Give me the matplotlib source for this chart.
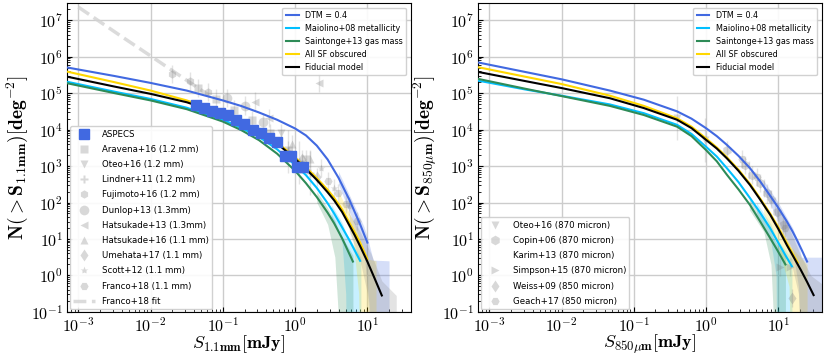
import matplotlib
matplotlib.use('Agg')
import matplotlib.pyplot as plt
from matplotlib.ticker import FuncFormatter, LogLocator, NullFormatter
import numpy as np

plt.rcParams['mathtext.fontset'] = 'cm'
plt.rcParams['font.family'] = 'DejaVu Sans'

# ---- model curves: log10(S [mJy]) and log10(N [deg^-2]) ----
# left panel (1.1 mm)
l_dtm_x = [-3.2, -2.5, -2.0, -1.5, -1.0, -0.75, -0.5, -0.25, 0.0, 0.15, 0.3, 0.45, 0.6, 0.75, 0.9, 1.0]
l_dtm_y = [5.72, 5.47, 5.28, 5.07, 4.80, 4.65, 4.47, 4.27, 4.03, 3.84, 3.56, 3.18, 2.68, 2.08, 1.40, 0.90]
l_mai_x = [-3.2, -2.5, -2.0, -1.5, -1.0, -0.75, -0.5, -0.25, 0.0, 0.15, 0.3, 0.45, 0.54, 0.65, 0.75, 0.9]
l_mai_y = [5.33, 5.04, 4.84, 4.60, 4.27, 4.05, 3.80, 3.46, 3.03, 2.75, 2.40, 1.98, 1.70, 1.32, 0.97, 0.40]
l_sai_x = [-3.2, -2.5, -2.0, -1.5, -1.0, -0.75, -0.5, -0.25, 0.0, 0.15, 0.3, 0.45, 0.54, 0.65, 0.8]
l_sai_y = [5.29, 5.00, 4.80, 4.56, 4.22, 3.99, 3.71, 3.34, 2.87, 2.53, 2.15, 1.72, 1.43, 1.02, 0.38]
l_all_x = [-3.2, -2.5, -2.0, -1.5, -1.0, -0.75, -0.5, -0.25, 0.0, 0.15, 0.3, 0.45, 0.54, 0.65, 0.82, 0.9, 1.0]
l_all_y = [5.61, 5.30, 5.07, 4.80, 4.45, 4.23, 3.97, 3.65, 3.24, 2.96, 2.67, 2.35, 2.13, 1.81, 1.20, 0.90, 0.45]
l_fid_x = [-3.2, -2.5, -2.0, -1.5, -1.0, -0.75, -0.5, -0.25, 0.0, 0.15, 0.3, 0.45, 0.54, 0.65, 0.82, 0.9, 1.0, 1.1, 1.2]
l_fid_y = [5.47, 5.18, 4.98, 4.75, 4.42, 4.20, 3.94, 3.62, 3.20, 2.92, 2.62, 2.28, 2.06, 1.74, 1.12, 0.80, 0.38, -0.08, -0.55]

# right panel (850 micron)
r_dtm_x = [-3.2, -2.5, -2.0, -1.33, -0.86, -0.4, -0.2, 0.0, 0.15, 0.29, 0.45, 0.61, 0.75, 0.89, 1.0, 1.12, 1.2, 1.26, 1.33, 1.40]
r_dtm_y = [5.86, 5.58, 5.38, 5.07, 4.82, 4.50, 4.30, 4.04, 3.82, 3.58, 3.28, 2.94, 2.58, 2.18, 1.86, 1.48, 1.20, 0.97, 0.68, 0.38]
r_mai_x = [-3.2, -2.5, -2.0, -1.33, -0.86, -0.4, -0.2, 0.0, 0.15, 0.29, 0.45, 0.61, 0.75, 0.89, 1.0, 1.1, 1.19]
r_mai_y = [5.36, 5.10, 4.93, 4.69, 4.45, 4.13, 3.88, 3.53, 3.26, 2.94, 2.56, 2.12, 1.72, 1.29, 0.90, 0.55, 0.25]
r_sai_x = [-3.2, -2.5, -2.0, -1.33, -0.86, -0.4, -0.2, 0.0, 0.15, 0.29, 0.45, 0.61, 0.75, 0.89, 1.0, 1.10]
r_sai_y = [5.41, 5.12, 4.92, 4.65, 4.40, 4.08, 3.82, 3.44, 3.13, 2.76, 2.36, 1.93, 1.48, 1.02, 0.65, 0.30]
r_all_x = [-3.2, -2.5, -2.0, -1.33, -0.86, -0.4, -0.2, 0.0, 0.15, 0.29, 0.45, 0.61, 0.75, 0.89, 1.0, 1.12, 1.2, 1.27]
r_all_y = [5.73, 5.45, 5.25, 4.93, 4.65, 4.31, 4.08, 3.76, 3.51, 3.24, 2.90, 2.51, 2.11, 1.69, 1.32, 0.88, 0.60, 0.35]
r_fid_x = [-3.2, -2.5, -2.0, -1.33, -0.86, -0.4, -0.2, 0.0, 0.15, 0.29, 0.45, 0.61, 0.75, 0.89, 1.0, 1.12, 1.2, 1.31, 1.4, 1.49]
r_fid_y = [5.60, 5.33, 5.14, 4.86, 4.59, 4.27, 4.04, 3.72, 3.48, 3.21, 2.87, 2.48, 2.08, 1.66, 1.28, 0.83, 0.55, 0.16, -0.18, -0.54]

# ---- model uncertainty bands: (log S, log N upper, log N lower) ----
lb_sai = ([0.30, 0.45, 0.55, 0.61, 0.62, 0.80], [2.3, 1.85, 1.5, 1.2, 1.15, 0.55], [2.0, 1.4, 0.5, -1.5, -2, -2])
lb_mai = ([0.50, 0.65, 0.70, 0.71, 0.91], [1.95, 1.45, 1.2, 1.15, 0.5], [1.6, 0.9, -0.5, -2, -2])
lb_all = ([0.60, 0.80, 0.88, 0.89, 1.0, 1.12], [2.3, 1.5, 1.1, 1.0, 0.45, 0.40], [2.0, 1.0, -0.5, -2, -2, -2])
lb_dtm = ([0.60, 0.80, 0.95, 1.0, 1.08, 1.30], [2.85, 2.0, 1.35, 1.05, 0.42, 0.40], [2.5, 1.5, 0.7, -0.3, -2, -2])
lb_fid = ([0.75, 0.90, 1.0, 1.05, 1.2, 1.40], [1.7, 1.2, 0.8, 0.6, -0.15, -0.55], [1.2, 0.4, -0.5, -2, -2, -2])

rb_sai = ([0.60, 0.80, 0.90, 0.93, 0.94, 1.10], [2.1, 1.6, 1.2, 1.05, 1.0, 0.5], [1.8, 1.2, 0.3, -1.0, -2, -2])
rb_mai = ([0.70, 0.90, 0.97, 0.98, 1.19], [2.0, 1.4, 1.05, 1.0, 0.45], [1.7, 0.9, 0.0, -2, -2])
rb_all = ([0.80, 1.00, 1.15, 1.17, 1.40], [2.0, 1.4, 0.9, 0.8, 0.3], [1.7, 0.8, -0.3, -2, -2])
rb_dtm = ([0.80, 1.00, 1.20, 1.28, 1.32, 1.65], [2.6, 2.0, 1.3, 0.9, 0.5, 0.5], [2.3, 1.5, 0.7, -0.3, -2, -2])
rb_fid = ([1.00, 1.15, 1.28, 1.30, 1.45, 1.65], [1.9, 1.3, 0.7, 0.6, 0.0, -0.3], [1.5, 0.6, -0.5, -2, -2, -2])

# ---- observations, left panel (log S, log N) ----
aspecs_x = [-1.37, -1.26, -1.15, -1.04, -0.93, -0.82, -0.71, -0.58, -0.47, -0.36, -0.25, -0.14, -0.055, 0.03, 0.11]
aspecs_y = [4.67, 4.59, 4.51, 4.45, 4.40, 4.26, 4.15, 3.98, 3.90, 3.76, 3.65, 3.27, 3.27, 2.97, 2.97]
aravena_x = [-1.35, -1.1, -0.85, -0.6, -0.35, -0.1, 0.1]
aravena_y = [5.15, 4.85, 4.55, 4.25, 3.90, 3.45, 3.05]
oteo_x = [-0.2, 0.15]
oteo_y = [3.9, 3.2]
lindner_x = [-0.1, 0.05, 0.2]
lindner_y = [3.4, 3.1, 2.8]
fujimoto_x = [-1.7, -1.45, -1.2]
fujimoto_y = [5.52, 5.34, 5.03]
dunlop_x = [-0.94, -0.69, -0.45]
dunlop_y = [4.86, 4.66, 4.2]
hats13_x = [-0.56, -0.36, 0.33]
hats13_y = [4.77, 4.31, 5.27]
hats16_x = [-0.05, 0.2]
hats16_y = [3.6, 3.2]
umehata_x = [0.1, 0.3]
umehata_y = [3.2, 2.7]
scott_x = [0.36, 0.54, 0.75]
scott_y = [2.95, 2.4, 1.9]
franco_x = [0.45, 0.6, 0.7, 0.85]
franco_y = [2.6, 2.25, 1.95, 1.5]
franco_fit_x = [-3.0, -2.4, -2.0, -1.5, -1.2]
franco_fit_y = [7.36, 6.55, 6.02, 5.35, 4.95]

# ---- observations, right panel ----
oteo870_x = [-0.40, -0.02]
oteo870_y = [4.31, 3.72]
copin_x = [0.29, 0.54, 0.64, 0.75, 0.84, 0.98, 1.07]
copin_y = [3.44, 3.03, 2.76, 2.53, 2.25, 1.75, 1.38]
karim_x = [0.6, 0.8, 0.95]
karim_y = [2.9, 2.4, 1.9]
simpson_x = [1.03, 1.17]
simpson_y = [0.24, 0.24]
weiss_x = [1.19]
weiss_y = [-0.63]
geach_x = [0.5, 0.7, 0.9, 1.1]
geach_y = [3.2, 2.7, 2.1, 1.3]

labels = ['DTM = 0.4', 'Maiolino+08 metallicity', 'Saintonge+13 gas mass', 'All SF obscured', 'Fiducial model']
colors = ['royalblue', 'deepskyblue', 'seagreen', 'gold', 'black']

p = lambda v: 10 ** np.asarray(v, dtype=float)

fig = plt.figure(figsize=(8.3, 3.56), dpi=100)
ax1 = fig.add_axes([0.081, 0.124, 0.414, 0.868])
ax2 = fig.add_axes([0.576, 0.124, 0.414, 0.868])


def draw_models(ax, curves, bands):
    for (bx, hi, lo), c in zip(bands, colors):
        ax.fill_between(p(bx), p(lo), p(hi), color='gray' if c == 'black' else c,
                        alpha=0.22, lw=0)
    handles = []
    for (cx, cy), c, lab in zip(curves, colors, labels):
        h, = ax.plot(p(cx), p(cy), color=c, lw=1.5, label=lab, zorder=5)
        handles.append(h)
    return handles


def gray_pts(ax, x, y, m, lab, ms=6, err=0.25):
    y = np.asarray(y, dtype=float)
    yy = p(y)
    ax.errorbar(p(x), yy, yerr=[yy - p(y - err), p(y + err) - yy],
                fmt='none', ecolor='gray', alpha=0.22, lw=1)
    return ax.plot(p(x), yy, ls='none', marker=m, ms=ms, color='gray', alpha=0.3,
                   mec='none', label=lab)[0]


# left panel
mh_l = draw_models(ax1, [(l_dtm_x, l_dtm_y), (l_mai_x, l_mai_y), (l_sai_x, l_sai_y),
                         (l_all_x, l_all_y), (l_fid_x, l_fid_y)],
                   [lb_dtm, lb_mai, lb_sai, lb_all, lb_fid])

fit_h, = ax1.plot(p(franco_fit_x), p(franco_fit_y), ls='--', lw=2.5, color='lightgray',
                  alpha=0.8, label='Franco+18 fit')
dh = []
ay = p(aspecs_y)
dh.append(ax1.errorbar(p(aspecs_x), ay, yerr=0.15 * ay, fmt='s', ms=7, color='royalblue',
                       ecolor='royalblue', elinewidth=1, zorder=6, label='ASPECS'))
dh.append(gray_pts(ax1, aravena_x, aravena_y, 's', 'Aravena+16 (1.2 mm)'))
dh.append(gray_pts(ax1, oteo_x, oteo_y, 'v', 'Oteo+16 (1.2 mm)'))
dh.append(gray_pts(ax1, lindner_x, lindner_y, 'P', 'Lindner+11 (1.2 mm)', err=0.6))
dh.append(gray_pts(ax1, fujimoto_x, fujimoto_y, 'h', 'Fujimoto+16 (1.2 mm)'))
dh.append(gray_pts(ax1, dunlop_x, dunlop_y, 'o', 'Dunlop+13 (1.3mm)', ms=7))
dh.append(gray_pts(ax1, hats13_x, hats13_y, '<', 'Hatsukade+13 (1.3mm)'))
dh.append(gray_pts(ax1, hats16_x, hats16_y, '^', 'Hatsukade+16 (1.1 mm)'))
dh.append(gray_pts(ax1, umehata_x, umehata_y, 'd', 'Umehata+17 (1.1 mm)'))
dh.append(gray_pts(ax1, scott_x, scott_y, '*', 'Scott+12 (1.1 mm)'))
dh.append(gray_pts(ax1, franco_x, franco_y, 'H', 'Franco+18 (1.1 mm)'))
dh.append(fit_h)

# right panel
mh_r = draw_models(ax2, [(r_dtm_x, r_dtm_y), (r_mai_x, r_mai_y), (r_sai_x, r_sai_y),
                         (r_all_x, r_all_y), (r_fid_x, r_fid_y)],
                   [rb_dtm, rb_mai, rb_sai, rb_all, rb_fid])
rh = []
rh.append(gray_pts(ax2, oteo870_x, oteo870_y, 'v', 'Oteo+16 (870 micron)', err=0.6))
rh.append(gray_pts(ax2, copin_x, copin_y, 'h', 'Copin+06 (870 micron)', ms=7))
rh.append(gray_pts(ax2, karim_x, karim_y, '3', 'Karim+13 (870 micron)', ms=7))
rh.append(gray_pts(ax2, simpson_x, simpson_y, '>', 'Simpson+15 (870 micron)'))
rh.append(gray_pts(ax2, weiss_x, weiss_y, 'd', 'Weiss+09 (850 micron)'))
rh.append(gray_pts(ax2, geach_x, geach_y, 'H', 'Geach+17 (850 micron)'))

bold_pow = FuncFormatter(lambda v, pos: r'$\mathbf{10^{%d}}$' % int(round(np.log10(v))))

for ax, mh, data_h in [(ax1, mh_l, dh), (ax2, mh_r, rh)]:
    ax.set_xscale('log')
    ax.set_yscale('log')
    ax.set_xlim(7e-4, 40)
    ax.set_ylim(1e-1, 3e7)
    ax.xaxis.set_major_locator(LogLocator(base=10, numticks=20))
    ax.yaxis.set_major_locator(LogLocator(base=10, numticks=20))
    ax.yaxis.set_minor_locator(LogLocator(base=10, subs=np.arange(2, 10), numticks=20))
    ax.xaxis.set_major_formatter(bold_pow)
    ax.yaxis.set_major_formatter(bold_pow)
    ax.xaxis.set_minor_formatter(NullFormatter())
    ax.yaxis.set_minor_formatter(NullFormatter())
    ax.grid(True, which='major', color='#cccccc', lw=1)
    ax.set_axisbelow(True)
    ax.tick_params(which='both', direction='in', labelsize=11.5, pad=3)
    leg1 = ax.legend(handles=mh, loc='upper right', fontsize=5.8, handlelength=1.6,
                     borderaxespad=0.6, framealpha=0.9)
    ax.add_artist(leg1)
    ax.legend(handles=data_h, loc='lower left', fontsize=6.2, labelspacing=0.72,
              handlelength=2.5, borderaxespad=0.3, framealpha=0.9)

ax1.set_xlabel(r'$S_{\mathbf{1.1mm}}\mathbf{[mJy]}$', fontsize=13, labelpad=-1)
ax1.set_ylabel(r'$\mathbf{N(>S_{1.1mm})[deg^{-2}]}$', fontsize=14, labelpad=1)
ax2.set_xlabel(r'$S_{\mathbf{850\mu m}}\mathbf{[mJy]}$', fontsize=13, labelpad=-1)
ax2.set_ylabel(r'$\mathbf{N(>S_{850\mu m})[deg^{-2}]}$', fontsize=14, labelpad=1)

fig.savefig('out.png', dpi=100)
